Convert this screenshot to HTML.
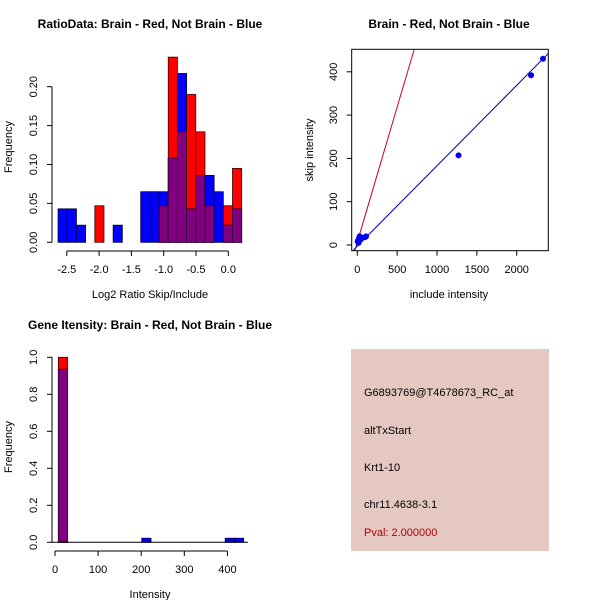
<!DOCTYPE html>
<html><head><meta charset="utf-8"><style>
body{margin:0;background:#fff}
svg{display:block;font-family:"Liberation Sans",sans-serif}
</style></head><body>
<svg id="s" width="600" height="600" viewBox="0 0 600 600">
<rect x="0" y="0" width="600" height="600" fill="#fff"/>
<g id="p1"></g>
<g id="p2"></g>
<g id="p3"></g>
<g id="p4">
<rect x="351" y="349" width="198" height="202" fill="#E6C8C2"/>
<text x="364" y="396" font-size="11">G6893769@T4678673_RC_at</text>
<text x="364" y="434" font-size="11">altTxStart</text>
<text x="364" y="471" font-size="11">Krt1-10</text>
<text x="364" y="508" font-size="11">chr11.4638-3.1</text>
<text x="364" y="536" font-size="11" fill="#B00000">Pval: 2.000000</text>
</g>
</svg>
<script>
// Panel 1 data
const ratioBinStart = -2.635;
const ratioBinWidth = 0.1421;
const ratioRed  = [0,0,0,0,0.047,0,0,0,0,0,0,0.047,0.238,0.142,0.19,0.142,0.047,0,0.047,0.095];
const ratioBlue = [0.043,0.043,0.022,0,0,0,0.022,0,0,0.065,0.065,0.065,0.108,0.217,0.043,0.086,0.086,0.065,0.022,0.043];
const ratioXTicks = [-2.5,-2.0,-1.5,-1.0,-0.5,0.0];
const ratioXLabels = ["-2.5","-2.0","-1.5","-1.0","-0.5","0.0"];
const ratioYTicks = [0,0.05,0.10,0.15,0.20];
const ratioYLabels = ["0.00","0.05","0.10","0.15","0.20"];
// Panel 2 data
const scatX = [2330,2180,1270,110,95,30,20,10,15,40,5];
const scatY = [430,392,207,20,18,20,15,10,5,12,8];
const blueLine = [[-50,-12],[2400,443]];
const redLine = [[-30,-12],[711,450]];
const scatXTicks = [0,500,1000,1500,2000];
const scatYTicks = [0,100,200,300,400];
// Panel 3 data
const intBinStart = 7.8;
const intBinWidth = 21.5;
const intRed  = [1.0,0,0,0,0,0,0,0,0,0,0,0,0,0,0,0,0,0,0,0];
const intBlue = [0.935,0,0,0,0,0,0,0,0,0.022,0,0,0,0,0,0,0,0,0.022,0.022];
const intXTicks = [0,100,200,300,400];
const intYTicks = [0,0.2,0.4,0.6,0.8,1.0];
const intYLabels = ["0.0","0.2","0.4","0.6","0.8","1.0"];

const NS="http://www.w3.org/2000/svg";
function mk(parent,tag,attrs,name){const e=document.createElementNS(NS,tag);for(const k in attrs)e.setAttribute(k,attrs[k]);


parent.appendChild(e);return e;}
function txt(parent,x,y,s,name,opts){const t=mk(parent,'text',Object.assign({x:x,y:y,'font-size':11,'text-anchor':'middle'},opts||{}),name);t.textContent=s;return t;}

function histogram(g,xs,ys,binStart,binW,red,blue,baseY){
  for(let i=0;i<red.length;i++){
    const a=xs(binStart+i*binW), b=xs(binStart+(i+1)*binW);
    const r=red[i], bl=blue[i], m=Math.min(r,bl);
    if(r>0) mk(g,'rect',{x:a,y:ys(r),width:b-a,height:baseY-ys(r),fill:'#FF0000',stroke:'#400000','stroke-width':0.8},'red-bar-'+i);
    if(bl>0) mk(g,'rect',{x:a,y:ys(bl),width:b-a,height:baseY-ys(bl),fill:'#0000FF',stroke:'#000040','stroke-width':0.8},'blue-bar-'+i);
    if(m>0) mk(g,'rect',{x:a,y:ys(m),width:b-a,height:baseY-ys(m),fill:'#800080',stroke:'#300030','stroke-width':0.8},'overlap-bar-'+i);
  }
}

// Panel 1
(function(){
  const g=document.getElementById('p1');
  const xs=v=>228.3+v*64.6, ys=v=>242.3-v*778;
  histogram(g,xs,ys,ratioBinStart,ratioBinWidth,ratioRed,ratioBlue,ys(0));
  mk(g,'line',{x1:52,y1:ys(0),x2:52,y2:ys(0.2),stroke:'#000'},'y-axis');
  ratioYTicks.forEach((v,i)=>{mk(g,'line',{x1:47,y1:ys(v),x2:52,y2:ys(v),stroke:'#000'},'y-tick');
    txt(g,0,0,ratioYLabels[i],'y-tick-label',{transform:`translate(37,${ys(v)}) rotate(-90)`});});
  mk(g,'line',{x1:xs(-2.5),y1:251,x2:xs(0),y2:251,stroke:'#000'},'x-axis');
  ratioXTicks.forEach((v,i)=>{mk(g,'line',{x1:xs(v),y1:251,x2:xs(v),y2:256,stroke:'#000'},'x-tick');
    txt(g,xs(v),273,ratioXLabels[i],'x-tick-label');});
  txt(g,150,298,'Log2 Ratio Skip/Include','x-axis-title');
  txt(g,0,0,'Frequency','y-axis-title',{transform:'translate(12,147) rotate(-90)'});
  txt(g,150,28,'RatioData: Brain - Red, Not Brain - Blue','title',{'font-weight':'bold','font-size':12});
})();

// Panel 2
(function(){
  const g=document.getElementById('p2');
  const xs=v=>357.3+v*0.0797, ys=v=>245-v*0.433;
  mk(g,'defs',{},'defs').innerHTML='<clipPath id="c2"><rect x="351.7" y="49.3" width="196.6" height="201.4"/></clipPath>';
  const cg=mk(g,'g',{'clip-path':'url(#c2)'},'plot-area');
  mk(cg,'line',{x1:xs(redLine[0][0]),y1:ys(redLine[0][1]),x2:xs(redLine[1][0]),y2:ys(redLine[1][1]),stroke:'#CC0022','stroke-width':1},'red-fit-line');
  mk(cg,'line',{x1:xs(blueLine[0][0]),y1:ys(blueLine[0][1]),x2:xs(blueLine[1][0]),y2:ys(blueLine[1][1]),stroke:'#0000AA','stroke-width':1},'blue-fit-line');
  scatX.forEach((x,i)=>mk(cg,'circle',{cx:xs(x),cy:ys(scatY[i]),r:3,fill:'#0000EE'},'point'));
  mk(g,'rect',{x:351.7,y:49.3,width:196.6,height:201.4,fill:'none',stroke:'#000'},'plot-box');
  scatXTicks.forEach(v=>{mk(g,'line',{x1:xs(v),y1:250.7,x2:xs(v),y2:255.7,stroke:'#000'},'x-tick');txt(g,xs(v),273,String(v),'x-tick-label');});
  scatYTicks.forEach(v=>{mk(g,'line',{x1:346.7,y1:ys(v),x2:351.7,y2:ys(v),stroke:'#000'},'y-tick');
    txt(g,0,0,String(v),'y-tick-label',{transform:`translate(337,${ys(v)}) rotate(-90)`});});
  txt(g,449,298,'include intensity','x-axis-title');
  txt(g,0,0,'skip intensity','y-axis-title',{transform:'translate(313,150) rotate(-90)'});
  txt(g,449,28,'Brain - Red, Not Brain - Blue','title',{'font-weight':'bold','font-size':12});
})();

// Panel 3
(function(){
  const g=document.getElementById('p3');
  const xs=v=>55+v*0.431, ys=v=>542.3-v*185;
  histogram(g,xs,ys,intBinStart,intBinWidth,intRed,intBlue,ys(0));
  mk(g,'line',{x1:52,y1:ys(0),x2:52,y2:ys(1),stroke:'#000'},'y-axis');
  mk(g,'line',{x1:52,y1:ys(0),x2:248,y2:ys(0),stroke:'#000'},'baseline');
  intYTicks.forEach((v,i)=>{mk(g,'line',{x1:47,y1:ys(v),x2:52,y2:ys(v),stroke:'#000'},'y-tick');
    txt(g,0,0,intYLabels[i],'y-tick-label',{transform:`translate(37,${ys(v)}) rotate(-90)`});});
  mk(g,'line',{x1:xs(0),y1:551,x2:xs(400),y2:551,stroke:'#000'},'x-axis');
  intXTicks.forEach(v=>{mk(g,'line',{x1:xs(v),y1:551,x2:xs(v),y2:556,stroke:'#000'},'x-tick');txt(g,xs(v),573,String(v),'x-tick-label');});
  txt(g,150,598,'Intensity','x-axis-title');
  txt(g,0,0,'Frequency','y-axis-title',{transform:'translate(12,447) rotate(-90)'});
  txt(g,150,329,'Gene Itensity: Brain - Red, Not Brain - Blue','title',{'font-weight':'bold','font-size':12});
})();
</script>
</body></html>
